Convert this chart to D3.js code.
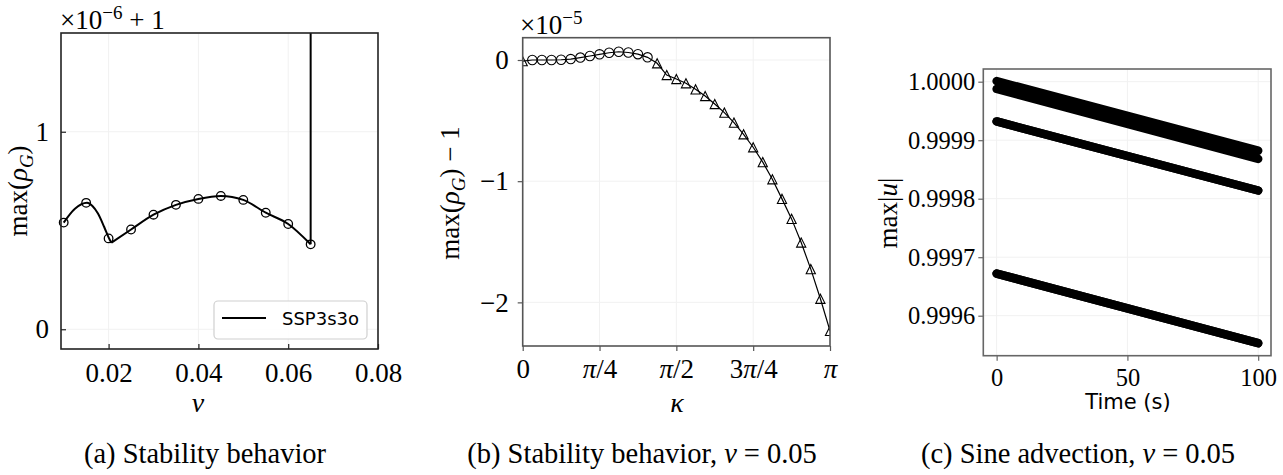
<!DOCTYPE html>
<html>
<head>
<meta charset="utf-8">
<script src="https://cdn.jsdelivr.net/npm/d3@7"></script>
<style>
  body { margin: 0; background: #fff; }
  svg { display: block; }
  .serif { font-family: "Liberation Serif", "Times New Roman", serif; }
  .sans { font-family: "DejaVu Sans", "Noto Sans", sans-serif; }
</style>
</head>
<body>
<div id="chart"></div>
<script>
// (a) stability, max(rho_G) - 1 in units of 1e-6
const nuMarks = [0.01, 0.015, 0.02, 0.025, 0.03, 0.035, 0.04, 0.045, 0.05, 0.055, 0.06, 0.065];
const rhoMarks = [0.54, 0.64, 0.46, 0.505, 0.58, 0.63, 0.66, 0.675, 0.655, 0.59, 0.533, 0.43];
// curve before the cusp near nu = 0.0206 and after it
const nuLine1 = [0.01, 0.0125, 0.0152, 0.0164, 0.0176, 0.019, 0.02, 0.0206];
const rhoLine1 = [0.54, 0.61, 0.64, 0.624, 0.587, 0.519, 0.465, 0.438];
const nuLine2 = [0.0206, 0.025, 0.03, 0.035, 0.04, 0.045, 0.05, 0.055, 0.06, 0.065];
const rhoLine2 = [0.438, 0.505, 0.58, 0.63, 0.66, 0.675, 0.655, 0.59, 0.533, 0.43];
const spikeNu = [0.065, 0.065];
const spikeRho = [0.43, 3.0];
const aXTicks = [0.02, 0.04, 0.06, 0.08];
const aYTicks = [0, 1];

// (b) stability at nu = 0.05, max(rho_G) - 1 in units of 1e-5, kappa = i*pi/32
const kappaIdx = d3.range(33);
const rhoK = [-0.01, 0, 0, 0, 0.002, 0.008, 0.02, 0.033, 0.047, 0.06, 0.068, 0.062, 0.048, 0.022,
  -0.027, -0.124, -0.157, -0.192, -0.242, -0.297, -0.363, -0.434, -0.517, -0.613, -0.72, -0.843,
  -0.984, -1.146, -1.311, -1.506, -1.726, -1.97, -2.235];
const markK = ['tri', 'o', 'o', 'o', 'o', 'o', 'o', 'o', 'o', 'o', 'o', 'o', 'o', 'o',
  'tri', 'tri', 'tri', 'tri', 'tri', 'tri', 'tri', 'tri', 'tri', 'tri', 'tri', 'tri',
  'tri', 'tri', 'tri', 'tri', 'tri', 'tri', 'tri'];
const bXTicks = [0, 1, 2, 3, 4];   // multiples of pi/4
const bXLabels = [['0'], ['π', '/4'], ['π', '/2'], ['3', 'π', '/4'], ['π']];
const bYTicks = [-2, -1, 0];

// (c) sine advection, max|u| over time
const timeS = [0, 100];
const bands = [
  { upper: [1.000001, 0.999882], lower: [0.9999875, 0.999868] },
  { upper: [0.999932, 0.999814], lower: [0.999932, 0.999814] },
  { upper: [0.999672, 0.999553], lower: [0.999672, 0.999553] }
];
const cXTicks = [0, 50, 100];
const cYTicks = [0.9996, 0.9997, 0.9998, 0.9999, 1.0];

const W = 1283, H = 475;
const svg = d3.select('#chart').append('svg')
  .attr('width', W).attr('height', H);
svg.append('rect').attr('width', W).attr('height', H).attr('fill', '#fff');

const defs = svg.append('defs');

function frame(id, box, xDom, yDom, spine) {
  const x = d3.scaleLinear().domain(xDom).range([box.l, box.r]);
  const y = d3.scaleLinear().domain(yDom).range([box.b, box.t]);
  defs.append('clipPath').attr('id', id)
    .append('rect').attr('x', box.l).attr('y', box.t)
    .attr('width', box.r - box.l).attr('height', box.b - box.t);
  const g = svg.append('g');
  const plot = g.append('g').attr('clip-path', `url(#${id})`);
  return { x, y, g, plot, box, spine };
}

function grid(p, xt, yt) {
  p.plot.selectAll('.gx').data(xt).enter().append('line')
    .attr('x1', d => p.x(d)).attr('x2', d => p.x(d))
    .attr('y1', p.box.t).attr('y2', p.box.b)
    .attr('stroke', '#f1f1f1').attr('stroke-width', 1);
  p.plot.selectAll('.gy').data(yt).enter().append('line')
    .attr('y1', d => p.y(d)).attr('y2', d => p.y(d))
    .attr('x1', p.box.l).attr('x2', p.box.r)
    .attr('stroke', '#f1f1f1').attr('stroke-width', 1);
}

function spines(p) {
  p.g.append('rect')
    .attr('x', p.box.l).attr('y', p.box.t)
    .attr('width', p.box.r - p.box.l).attr('height', p.box.b - p.box.t)
    .attr('fill', 'none').attr('stroke', p.spine).attr('stroke-width', 1.6);
}

function axes(p, xt, yt, fmtX, fmtY, inner, fs, padY) {
  const tl = inner ? -5 : 5;
  const xa = d3.axisBottom(p.x).tickValues(xt).tickSizeInner(tl).tickSizeOuter(0).tickFormat(fmtX).tickPadding(inner ? 14 : 8);
  const ya = d3.axisLeft(p.y).tickValues(yt).tickSizeInner(tl).tickSizeOuter(0).tickFormat(fmtY).tickPadding(padY);
  const gx = p.g.append('g').attr('transform', `translate(0,${p.box.b})`).call(xa);
  const gy = p.g.append('g').attr('transform', `translate(${p.box.l},0)`).call(ya);
  [gx, gy].forEach(a => {
    a.select('.domain').remove();
    a.selectAll('.tick line').attr('stroke', p.spine).attr('stroke-width', 1.2);
    a.selectAll('.tick text').attr('class', 'serif').attr('font-size', fs).attr('fill', '#000');
  });
  return { gx, gy };
}

function ylabel(x, y, parts, fs) {
  const t = svg.append('text').attr('class', 'serif')
    .attr('transform', `translate(${x},${y}) rotate(-90)`)
    .attr('text-anchor', 'middle').attr('font-size', fs);
  parts.forEach(pt => {
    const s = t.append('tspan').text(pt.t);
    if (pt.i) s.attr('font-style', 'italic');
    if (pt.sub) s.attr('font-size', fs * 0.7).attr('dy', fs * 0.22);
    if (pt.up) s.attr('dy', -fs * 0.22);
  });
  return t;
}

// ---------- (a) ----------
const pa = frame('clipA', { l: 61, r: 378, t: 33, b: 349 }, [0.0094, 0.08], [-0.1, 1.5], '#222');
grid(pa, aXTicks, aYTicks);
[[nuLine1, rhoLine1], [nuLine2, rhoLine2]].forEach(([xs, ys]) => {
  pa.plot.append('path')
    .attr('d', d3.line().curve(d3.curveMonotoneX)
      .x((d, i) => pa.x(xs[i])).y((d, i) => pa.y(ys[i]))(xs))
    .attr('fill', 'none').attr('stroke', '#000').attr('stroke-width', 2).attr('stroke-linejoin', 'round');
});
pa.plot.append('path')
  .attr('d', d3.line().x((d, i) => pa.x(spikeNu[i])).y((d, i) => pa.y(spikeRho[i]))(spikeNu))
  .attr('fill', 'none').attr('stroke', '#000').attr('stroke-width', 2);
pa.g.selectAll('.ma').data(nuMarks).enter().append('circle')
  .attr('cx', d => pa.x(d)).attr('cy', (d, i) => pa.y(rhoMarks[i]))
  .attr('r', 4.3).attr('fill', 'none').attr('stroke', '#000').attr('stroke-width', 1.3);
spines(pa);
axes(pa, aXTicks, aYTicks, d3.format('.2f'), d3.format('d'), true, 27, 12);

const offA = svg.append('text').attr('class', 'serif').attr('x', 60).attr('y', 29).attr('font-size', 27);
offA.append('tspan').text('×10');
offA.append('tspan').text('−6').attr('font-size', 19).attr('dy', -10);
offA.append('tspan').text(' + 1').attr('dy', 10);

ylabel(27, 191, [{ t: 'max(' }, { t: 'ρ', i: true }, { t: 'G', i: true, sub: true }, { t: ')', up: true }], 27);
svg.append('text').attr('class', 'serif').attr('x', 198).attr('y', 412)
  .attr('text-anchor', 'middle').attr('font-size', 28).attr('font-style', 'italic').text('ν');

// legend
const lg = svg.append('g');
lg.append('rect').attr('x', 214).attr('y', 301).attr('width', 153).attr('height', 38)
  .attr('rx', 4).attr('fill', '#fff').attr('fill-opacity', 0.85).attr('stroke', '#d0d0d0').attr('stroke-width', 1.2);
lg.append('line').attr('x1', 222).attr('x2', 266).attr('y1', 318).attr('y2', 318)
  .attr('stroke', '#000').attr('stroke-width', 2);
lg.append('text').attr('class', 'sans').attr('x', 282).attr('y', 325).attr('font-size', 18).text('SSP3s3o');

// ---------- (b) ----------
const pb = frame('clipB', { l: 522.7, r: 830, t: 37.7, b: 346 }, [0, Math.PI], [-2.36, 0.184], '#555');
grid(pb, bXTicks.map(k => k * Math.PI / 4), bYTicks);
const kap = i => i * Math.PI / 32;
pb.plot.append('path')
  .attr('d', d3.line().x(i => pb.x(kap(i))).y(i => pb.y(rhoK[i]))(kappaIdx))
  .attr('fill', 'none').attr('stroke', '#000').attr('stroke-width', 1.2);
kappaIdx.forEach(i => {
  const cx = pb.x(kap(i)), cy = pb.y(rhoK[i]);
  if (markK[i] === 'o') {
    pb.g.append('circle').attr('cx', cx).attr('cy', cy).attr('r', 4.7)
      .attr('fill', 'none').attr('stroke', '#000').attr('stroke-width', 1.1);
  } else {
    pb.plot.append('path').attr('d', `M0,-4.6L-4.6,4.6L4.6,4.6Z`)
      .attr('transform', `translate(${cx},${cy})`)
      .attr('fill', 'none').attr('stroke', '#000').attr('stroke-width', 1.1);
  }
});
spines(pb);
const bAx = axes(pb, bXTicks.map(k => k * Math.PI / 4), bYTicks, () => '', d => (d < 0 ? '−' : '') + Math.abs(d), false, 27, 9);
bAx.gx.selectAll('.tick text').each(function (d, i) {
  const t = d3.select(this);
  t.text(null);
  bXLabels[i].forEach(s => {
    const sp = t.append('tspan').text(s);
    if (s === 'π') sp.attr('font-style', 'italic');
  });
});
const offB = svg.append('text').attr('class', 'serif').attr('x', 520).attr('y', 34).attr('font-size', 27);
offB.append('tspan').text('×10');
offB.append('tspan').text('−5').attr('font-size', 19).attr('dy', -10);

ylabel(459, 193, [{ t: 'max(' }, { t: 'ρ', i: true }, { t: 'G', i: true, sub: true }, { t: ')', up: true }, { t: ' − 1' }], 27);
svg.append('text').attr('class', 'serif').attr('x', 677).attr('y', 412)
  .attr('text-anchor', 'middle').attr('font-size', 28).attr('font-style', 'italic').text('κ');

// ---------- (c) ----------
const pc = frame('clipC', { l: 983.3, r: 1271, t: 69, b: 355.7 }, [-5.1, 104.9], [0.99953163, 1.0000217], '#666');
grid(pc, cXTicks, cYTicks);
bands.forEach(b => {
  const area = d3.area().x((d, i) => pc.x(timeS[i])).y0((d, i) => pc.y(b.lower[i])).y1((d, i) => pc.y(b.upper[i]));
  pc.plot.append('path').attr('d', area(timeS)).attr('fill', '#000');
  [b.upper, b.lower].forEach(v => {
    pc.plot.append('path')
      .attr('d', d3.line().x((d, i) => pc.x(timeS[i])).y((d, i) => pc.y(v[i]))(timeS))
      .attr('fill', 'none').attr('stroke', '#000').attr('stroke-width', 8.5).attr('stroke-linecap', 'round');
  });
});
spines(pc);
axes(pc, cXTicks, cYTicks, d3.format('d'), d3.format('.4f'), false, 24.5, 3);
ylabel(897, 213, [{ t: 'max|' }, { t: 'u', i: true }, { t: '|' }], 27);
svg.append('text').attr('class', 'sans').attr('x', 1128).attr('y', 409)
  .attr('text-anchor', 'middle').attr('font-size', 21).text('Time (s)');

// ---------- captions ----------
function caption(x, parts) {
  const t = svg.append('text').attr('class', 'serif').attr('x', x).attr('y', 463)
    .attr('text-anchor', 'middle').attr('font-size', 28.5);
  parts.forEach(pt => {
    const s = t.append('tspan').text(pt.t);
    if (pt.i) s.attr('font-style', 'italic');
    if (pt.dx) s.attr('dx', pt.dx);
  });
}
caption(205, [{ t: '(a) Stability behavior' }]);
caption(642, [{ t: '(b) Stability behavior, ' }, { t: 'ν', i: true }, { t: '=', dx: 7 }, { t: '0.05', dx: 7 }]);
caption(1078, [{ t: '(c) Sine advection, ' }, { t: 'ν', i: true }, { t: '=', dx: 7 }, { t: '0.05', dx: 7 }]);
</script>
</body>
</html>
